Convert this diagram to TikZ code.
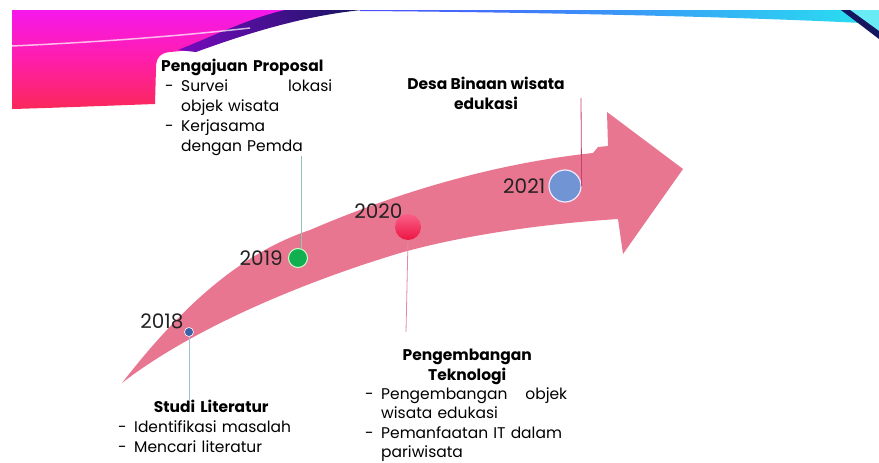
\documentclass[tikz,border=0pt]{standalone}
\usepackage{fontspec}
\setmainfont{Poppins}
\usepackage{xcolor}
\usetikzlibrary{positioning,calc}

\definecolor{arrowpink}{RGB}{233,118,144}
\definecolor{mgtop}{RGB}{246,24,236}
\definecolor{mgmid}{RGB}{255,30,170}
\definecolor{mgbot}{RGB}{250,40,90}
\definecolor{navyband}{RGB}{20,22,96}
\definecolor{violetband}{RGB}{120,10,190}
\definecolor{skyband}{RGB}{40,226,240}
\definecolor{dotblue}{RGB}{60,98,168}
\definecolor{dotgreen}{RGB}{16,176,80}
\definecolor{dotred}{RGB}{236,20,66}
\definecolor{dotredlight}{RGB}{250,96,136}
\definecolor{dotsky}{RGB}{112,148,212}
\definecolor{stemblue}{RGB}{160,192,224}
\definecolor{stemgreen}{RGB}{140,200,176}
\definecolor{stempink}{RGB}{224,138,166}
\definecolor{stemrose}{RGB}{200,60,112}
\definecolor{yeargray}{RGB}{34,34,34}

\newcommand{\dashitem}[1]{\makebox[20pt][l]{\hspace{4pt}-}#1}
\newcommand{\moreitem}[1]{\hspace*{20pt}#1}

\tikzset{
  dot/.style={circle, inner sep=0pt},
  year/.style={inner sep=0pt, font=\fontsize{20}{20}\selectfont, text=yeargray},
  infotext/.style={inner sep=0pt, align=left, font=\fontsize{15.5}{20}\selectfont},
  stem/.style={line width=0.8pt}
}

\begin{document}
\begin{tikzpicture}[x=1pt, y=-1pt]
    \useasboundingbox (0,0) rectangle (879,463);
    \fill[white] (0,0) rectangle (879,463);

    % banner at the top
    \shade[top color=mgtop, bottom color=mgbot, middle color=mgmid]
        (12,10) -- (318,10) .. controls (268,24) and (226,40) .. (192,50)
        -- (170,52) .. controls (160,53) and (156,58) .. (156,68)
        -- (155,104) .. controls (100,106) and (50,108) .. (12,109) -- cycle;
    \shade[left color=violetband, right color=navyband]
        (178,50) .. controls (218,34) and (250,18) .. (285,10) -- (362,10)
        .. controls (300,16) and (240,36) .. (196,52) -- cycle;
    \shade[left color=blue!70, middle color=cyan!10, right color=skyband]
        (360,10) -- (879,10) -- (879,24) .. controls (760,17) and (520,12) .. (360,11) -- cycle;
    \fill[skyband!70] (850,10) -- (879,10) -- (879,31) -- cycle;
    \fill[navyband] (841,10) -- (850,10) -- (879,31) -- (879,39) -- cycle;
    \draw[white, opacity=0.7, line width=1.5pt] (12,46) .. controls (100,42) and (180,36) .. (250,28);

    % arrow
    \fill[arrowpink]
        (122,383) .. controls (175,315) and (235,255) .. (310,230)
        .. controls (380,200) and (480,165) .. (593,153)
        -- (598,147) -- (608,146) -- (607,112) -- (683,169) -- (623,254) -- (618,219)
        .. controls (540,224) and (460,236) .. (400,253)
        .. controls (300,283) and (190,330) .. (122,383) -- cycle;

    % milestones
    \node (d18) [dot, fill=dotblue, draw=white, line width=0.6pt, minimum size=9pt] at (189,332) {};
    \node (d19) [dot, fill=dotgreen, draw=green!20, line width=1pt, minimum size=19pt] at (298,258) {};
    \node (d20) [dot, top color=dotredlight, bottom color=dotred, minimum size=26pt] at (408,227) {};
    \node (d21) [dot, fill=dotsky, draw=blue!8, line width=1.2pt, minimum size=32pt] at (565,186) {};

    \node (y18) [year, above left=0pt and 2pt of d18] {2018};
    \node (y19) [year, left=5pt of d19] {2019};
    \node (y20) [year, above left=-1pt and -4pt of d20] {2020};
    \node (y21) [year, left=3pt of d21] {2021};

    % texts
    \node (prop) [infotext, text width=176pt, anchor=north west] at (161,59)
        {\textbf{Pengajuan Proposal}\\
         \dashitem{\makebox[151pt][s]{Survei\hfill lokasi}}\\
         \moreitem{objek wisata}\\
         \dashitem{Kerjasama}\\
         \moreitem{dengan Pemda}};
    \node (desa) [infotext, align=center, anchor=north] at (486,77)
        {\textbf{Desa Binaan wisata}\\ \textbf{edukasi}};
    \node (studi) [infotext, text width=180pt, anchor=north west] at (114,400)
        {\makebox[\linewidth]{\hspace{14pt}\textbf{Studi Literatur}}\\
         \dashitem{Identifikasi masalah}\\
         \dashitem{Mencari literatur}};
    \node (tek) [infotext, text width=212pt, anchor=north west, font=\fontsize{15.5}{19.4}\selectfont] at (361,349)
        {\makebox[\linewidth]{\textbf{Pengembangan}}\\
         \makebox[\linewidth]{\textbf{Teknologi}}\\
         \dashitem{\makebox[186pt][s]{Pengembangan\hfill objek}}\\
         \moreitem{wisata edukasi}\\
         \dashitem{Pemanfaatan IT dalam}\\
         \moreitem{pariwisata}};

    % stems
    \coordinate (e20) at (406,332);
    \coordinate (e21) at (581,98);
    \draw [stem, stemblue] (d18.south) -- (d18.south |- studi.north);
    \draw [stem, stemgreen] (d19.70) -- (d19.70 |- prop.south);
    \draw [stem, stempink] (d20.south) -- (e20);
    \draw [stem, stemrose] (d21.east) -- (e21);

\end{tikzpicture}
\end{document}
